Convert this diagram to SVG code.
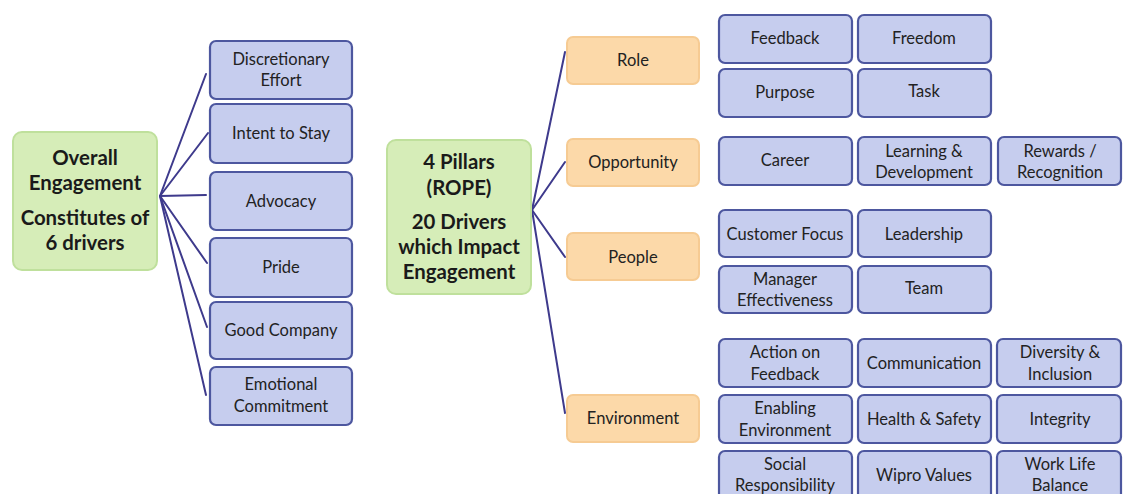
<svg xmlns="http://www.w3.org/2000/svg" width="1123" height="494" viewBox="0 0 1123 494">
  <style>
    .hub { fill: #d6edb8; stroke: #bfe09c; stroke-width: 2; }
    .pillar { fill: #fcd9a9; stroke: #f6cb93; stroke-width: 2; }
    .driver { fill: #c6cdee; stroke: #4d579f; stroke-width: 2.2; }
    .hubtext { font-family: Lato, "Liberation Sans", sans-serif; font-weight: bold; font-size: 20.4px; fill: #1a1a1a; text-anchor: middle; }
    .label { font-family: Lato, "Liberation Sans", sans-serif; font-size: 16.5px; fill: #222222; text-anchor: middle; }
    .link { stroke: #3e3a8c; stroke-width: 2; fill: none; stroke-linecap: round; }
  </style>
  <rect width="1123" height="494" fill="#ffffff"/>

  <!-- connectors -->
  <g id="connectors" class="link">
    <line x1="160" y1="196" x2="206" y2="74"/>
    <line x1="160" y1="196" x2="208" y2="133"/>
    <line x1="160" y1="196" x2="206" y2="195"/>
    <line x1="160" y1="196" x2="207" y2="263"/>
    <line x1="160" y1="196" x2="207" y2="327"/>
    <line x1="160" y1="196" x2="206" y2="395"/>
    <line x1="532" y1="210" x2="565" y2="52"/>
    <line x1="532" y1="210" x2="565" y2="162"/>
    <line x1="532" y1="210" x2="565" y2="257"/>
    <line x1="532" y1="210" x2="565" y2="413"/>
  </g>

  <!-- overall engagement -->
  <g id="overall">
    <rect class="hub" x="13" y="132" width="144" height="138" rx="9"/>
    <text class="hubtext" x="85" y="165">Overall</text>
    <text class="hubtext" x="85" y="190">Engagement</text>
    <text class="hubtext" x="85" y="225">Constitutes of</text>
    <text class="hubtext" x="85" y="250">6 drivers</text>
  </g>

  <g id="discretionary-effort">
    <rect class="driver" x="210" y="41" width="142" height="58" rx="6"/>
    <text class="label" x="281" y="65">Discretionary</text>
    <text class="label" x="281" y="86">Effort</text>
  </g>
  <g id="intent-to-stay">
    <rect class="driver" x="210" y="104" width="142" height="59" rx="6"/>
    <text class="label" x="281" y="139">Intent to Stay</text>
  </g>
  <g id="advocacy">
    <rect class="driver" x="210" y="172" width="142" height="58" rx="6"/>
    <text class="label" x="281" y="207">Advocacy</text>
  </g>
  <g id="pride">
    <rect class="driver" x="210" y="238" width="142" height="59" rx="6"/>
    <text class="label" x="281" y="273">Pride</text>
  </g>
  <g id="good-company">
    <rect class="driver" x="210" y="302" width="142" height="57" rx="6"/>
    <text class="label" x="281" y="336">Good Company</text>
  </g>
  <g id="emotional-commitment">
    <rect class="driver" x="210" y="367" width="142" height="58" rx="6"/>
    <text class="label" x="281" y="390">Emotional</text>
    <text class="label" x="281" y="412">Commitment</text>
  </g>

  <!-- pillars -->
  <g id="pillars">
    <rect class="hub" x="387" y="140" width="144" height="154" rx="9"/>
    <text class="hubtext" x="459" y="169">4 Pillars</text>
    <text class="hubtext" x="459" y="195">(ROPE)</text>
    <text class="hubtext" x="459" y="229">20 Drivers</text>
    <text class="hubtext" x="459" y="254">which Impact</text>
    <text class="hubtext" x="459" y="279">Engagement</text>
  </g>

  <g id="role">
    <rect class="pillar" x="567" y="37" width="132" height="47" rx="6"/>
    <text class="label" x="633" y="66">Role</text>
  </g>
  <g id="opportunity">
    <rect class="pillar" x="567" y="139" width="132" height="47" rx="6"/>
    <text class="label" x="633" y="168">Opportunity</text>
  </g>
  <g id="people">
    <rect class="pillar" x="567" y="233" width="132" height="47" rx="6"/>
    <text class="label" x="633" y="263">People</text>
  </g>
  <g id="environment">
    <rect class="pillar" x="567" y="395" width="132" height="47" rx="6"/>
    <text class="label" x="633" y="424">Environment</text>
  </g>

  <!-- role drivers -->
  <g id="feedback">
    <rect class="driver" x="719" y="15" width="133" height="48" rx="6"/>
    <text class="label" x="785" y="44">Feedback</text>
  </g>
  <g id="freedom">
    <rect class="driver" x="858" y="15" width="133" height="48" rx="6"/>
    <text class="label" x="924" y="44">Freedom</text>
  </g>
  <g id="purpose">
    <rect class="driver" x="719" y="69" width="133" height="48" rx="6"/>
    <text class="label" x="785" y="98">Purpose</text>
  </g>
  <g id="task">
    <rect class="driver" x="858" y="69" width="133" height="48" rx="6"/>
    <text class="label" x="924" y="97">Task</text>
  </g>

  <!-- opportunity drivers -->
  <g id="career">
    <rect class="driver" x="719" y="137" width="133" height="48" rx="6"/>
    <text class="label" x="785" y="166">Career</text>
  </g>
  <g id="learning-development">
    <rect class="driver" x="858" y="137" width="133" height="48" rx="6"/>
    <text class="label" x="924" y="157">Learning &amp;</text>
    <text class="label" x="924" y="178">Development</text>
  </g>
  <g id="rewards-recognition">
    <rect class="driver" x="998" y="137" width="123" height="48" rx="6"/>
    <text class="label" x="1060" y="157">Rewards /</text>
    <text class="label" x="1060" y="178">Recognition</text>
  </g>

  <!-- people drivers -->
  <g id="customer-focus">
    <rect class="driver" x="719" y="210" width="133" height="47" rx="6"/>
    <text class="label" x="785" y="240">Customer Focus</text>
  </g>
  <g id="leadership">
    <rect class="driver" x="858" y="210" width="133" height="47" rx="6"/>
    <text class="label" x="924" y="240">Leadership</text>
  </g>
  <g id="manager-effectiveness">
    <rect class="driver" x="719" y="266" width="133" height="47" rx="6"/>
    <text class="label" x="785" y="285">Manager</text>
    <text class="label" x="785" y="306">Effectiveness</text>
  </g>
  <g id="team">
    <rect class="driver" x="858" y="266" width="133" height="47" rx="6"/>
    <text class="label" x="924" y="294">Team</text>
  </g>

  <!-- environment drivers -->
  <g id="action-on-feedback">
    <rect class="driver" x="719" y="339" width="133" height="48" rx="6"/>
    <text class="label" x="785" y="358">Action on</text>
    <text class="label" x="785" y="380">Feedback</text>
  </g>
  <g id="communication">
    <rect class="driver" x="858" y="339" width="133" height="48" rx="6"/>
    <text class="label" x="924" y="369">Communication</text>
  </g>
  <g id="diversity-inclusion">
    <rect class="driver" x="997" y="339" width="124" height="48" rx="6"/>
    <text class="label" x="1060" y="358">Diversity &amp;</text>
    <text class="label" x="1060" y="380">Inclusion</text>
  </g>
  <g id="enabling-environment">
    <rect class="driver" x="719" y="395" width="133" height="48" rx="6"/>
    <text class="label" x="785" y="414">Enabling</text>
    <text class="label" x="785" y="436">Environment</text>
  </g>
  <g id="health-safety">
    <rect class="driver" x="858" y="395" width="133" height="48" rx="6"/>
    <text class="label" x="924" y="425">Health &amp; Safety</text>
  </g>
  <g id="integrity">
    <rect class="driver" x="997" y="395" width="124" height="48" rx="6"/>
    <text class="label" x="1060" y="425">Integrity</text>
  </g>
  <g id="social-responsibility">
    <rect class="driver" x="719" y="451" width="133" height="50" rx="6"/>
    <text class="label" x="785" y="470">Social</text>
    <text class="label" x="785" y="491">Responsibility</text>
  </g>
  <g id="wipro-values">
    <rect class="driver" x="858" y="451" width="133" height="50" rx="6"/>
    <text class="label" x="924" y="481">Wipro Values</text>
  </g>
  <g id="work-life-balance">
    <rect class="driver" x="997" y="451" width="124" height="50" rx="6"/>
    <text class="label" x="1060" y="470">Work Life</text>
    <text class="label" x="1060" y="491">Balance</text>
  </g>
</svg>
